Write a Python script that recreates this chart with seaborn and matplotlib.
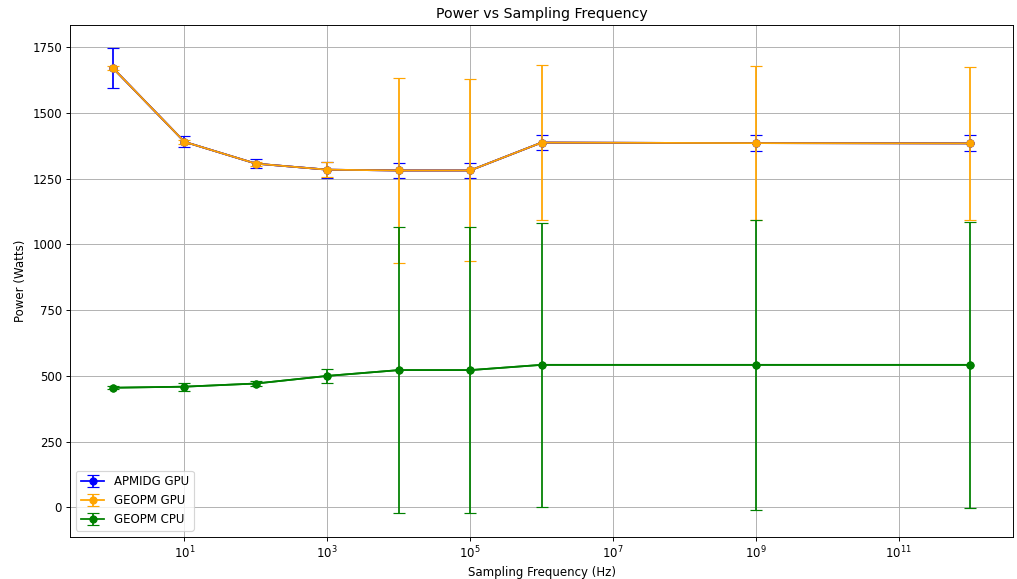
import numpy as np
import pandas as pd
import matplotlib
matplotlib.use("Agg")
import matplotlib.pyplot as plt
import seaborn as sns

# sampling frequencies (Hz)
freqs = [1, 10, 100, 1e3, 1e4, 1e5, 1e6, 1e9, 1e12]

# mean power (W) and std per series
apmidg_gpu = [1670, 1390, 1307, 1284, 1281, 1281, 1387, 1385, 1384]
apmidg_gpu_err = [76, 21, 16, 30, 30, 28, 29, 30, 30]

geopm_gpu = [1670, 1390, 1307, 1284, 1281, 1281, 1387, 1385, 1384]
geopm_gpu_err = [8, 8, 8, 29, 352, 346, 296, 293, 292]

geopm_cpu = [455, 459, 471, 500, 522, 522, 542, 542, 542]
geopm_cpu_err = [5, 15, 8, 26, 545, 544, 539, 550, 543]

series = [
    ("APMIDG GPU", apmidg_gpu, apmidg_gpu_err, "blue"),
    ("GEOPM GPU", geopm_gpu, geopm_gpu_err, "orange"),
    ("GEOPM CPU", geopm_cpu, geopm_cpu_err, "green"),
]

fig, ax = plt.subplots(figsize=(12, 6.832), dpi=84.75)

for label, vals, errs, col in series:
    df = pd.DataFrame({"freq": freqs, "power": vals})
    sns.lineplot(data=df, x="freq", y="power", color=col, marker="o",
                 markeredgecolor=col, markersize=6, legend=False, ax=ax)
    ax.errorbar(freqs, vals, yerr=errs, fmt="-o", color=col, capsize=5,
                label=label)

ax.set_xscale("log")
ax.set_title("Power vs Sampling Frequency")
ax.set_xlabel("Sampling Frequency (Hz)")
ax.set_ylabel("Power (Watts)")
ax.grid(True)
ax.legend(loc="lower left")

fig.subplots_adjust(left=0.069, right=0.996, top=0.957, bottom=0.073)
plt.savefig("out.png")
